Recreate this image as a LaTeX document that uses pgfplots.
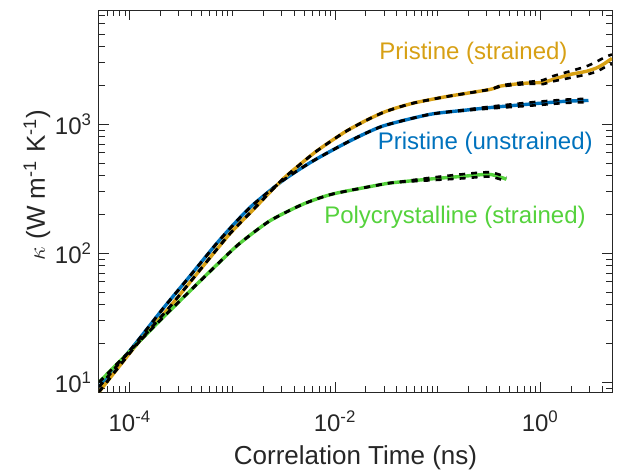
\documentclass[border=0pt]{standalone}
\usepackage{pgfplots}
\pgfplotsset{compat=1.18}
\usepackage{fontspec}
\setmainfont{Liberation Sans}
\definecolor{cblue}{RGB}{0,114,189}
\definecolor{cgold}{RGB}{215,160,20}
\definecolor{cgreen}{RGB}{85,210,60}
\definecolor{axgray}{RGB}{38,38,38}
\begin{document}
\begin{tikzpicture}
\useasboundingbox (-49.5bp,-40bp) rectangle (259.5bp,196bp);
\begin{axis}[
  at={(0,0)}, anchor=south west,
  width=256.5bp, height=191bp, scale only axis,
  xmode=log, ymode=log,
  xmin=5e-5, xmax=5, ymin=8.4, ymax=7700,
  xtick={1e-4,1e-2,1},
  xticklabels={10\textsuperscript{-4},10\textsuperscript{-2},10\textsuperscript{0}},
  minor xtick={6e-5,7e-5,8e-5,9e-5,2e-4,3e-4,4e-4,5e-4,6e-4,7e-4,8e-4,9e-4,1e-3,2e-3,3e-3,4e-3,5e-3,6e-3,7e-3,8e-3,9e-3,2e-2,3e-2,4e-2,5e-2,6e-2,7e-2,8e-2,9e-2,0.1,0.2,0.3,0.4,0.5,0.6,0.7,0.8,0.9,2,3,4},
  ytick={10,100,1000},
  yticklabels={10\textsuperscript{1},10\textsuperscript{2},10\textsuperscript{3}},
  minor ytick={9,20,30,40,50,60,70,80,90,200,300,400,500,600,700,800,900,2000,3000,4000,5000,6000,7000},
  tick align=inside, major tick length=5bp, minor tick length=2.8bp,
  axis line style={axgray, line width=0.5bp},
  tick style={axgray, line width=0.5bp},
  ticklabel style={font=\fontsize{12bp}{14bp}\selectfont, text=axgray},
  xticklabel style={yshift=-6bp},
  label style={font=\fontsize{13bp}{15bp}\selectfont, text=axgray},
  xlabel={Correlation Time (ns)},
  ylabel={$\kappa$ (W m\textsuperscript{-1} K\textsuperscript{-1})},
  xlabel style={at={(axis description cs:0.5,-0.172)}, anchor=center},
  ylabel style={at={(axis description cs:-0.121,0.542)}, anchor=center},
  every axis plot/.append style={smooth, tension=0.4},
]
% Pristine (unstrained)
\addplot[cblue, line width=1.7bp] coordinates {
(5e-5,9.2)(1.064e-4,18.7)(2.09e-4,37.0)(3.53e-4,61.2)(6.93e-4,117.8)(1.087e-3,175.8)(1.578e-3,237)(3.10e-3,367)(6.07e-3,519)(1.384e-2,741)(2.904e-2,968)(8.36e-2,1194)(0.1905,1290)(0.363,1360)(0.851,1442)(1.78,1510)(2.95,1531)};
% Pristine (strained)
\addplot[cgold, line width=1.7bp] coordinates {
(5e-5,8.4)(1.148e-4,19.3)(2.43e-4,38.1)(4.76e-4,73.3)(9.35e-4,140.6)(1.578e-3,216)(3.10e-3,376)(6.07e-3,589)(8.83e-3,728)(1.285e-2,885)(1.95e-2,1060)(2.9e-2,1230)(3.95e-2,1340)(6.0e-2,1470)(0.1216,1640)(0.321,1862)(0.403,1974)(0.6,2060)(0.85,2100)(1.06,2110)(1.32,2224)(1.94,2432)(2.82,2577)(3.53,2735)(4.2,2950)(5.0,3250)};
% Polycrystalline (strained)
\addplot[cgreen, line width=1.7bp] coordinates {
(5e-5,10.0)(1.148e-4,19.5)(2.09e-4,31.6)(4.43e-4,56.9)(7.46e-4,85.1)(1.17e-3,118.9)(2.30e-3,178)(4.85e-3,240)(9.46e-3,288)(2.9e-2,343)(3.95e-2,355)(8.93e-2,378)(0.174,395)(0.321,409)(0.468,375)};
% dashed bounds
\pgfplotsset{dsh/.style={black, line width=1.3bp, dash pattern=on 3bp off 3bp}}
\addplot[dsh] coordinates {
(5e-5,9.2)(1.064e-4,18.7)(2.09e-4,37.0)(3.53e-4,61.2)(6.93e-4,117.8)(1.087e-3,175.8)(1.578e-3,237)(3.10e-3,367)(6.07e-3,519)(1.384e-2,741)(2.904e-2,968)(8.36e-2,1194)(0.1905,1300)(0.363,1385)(0.851,1485)(1.78,1555)(2.95,1577)};
\addplot[dsh] coordinates {
(5e-5,9.2)(1.064e-4,18.7)(2.09e-4,37.0)(3.53e-4,61.2)(6.93e-4,117.8)(1.087e-3,175.8)(1.578e-3,237)(3.10e-3,367)(6.07e-3,519)(1.384e-2,741)(2.904e-2,968)(8.36e-2,1194)(0.1905,1280)(0.363,1335)(0.851,1400)(1.78,1466)(2.95,1486)};
\addplot[dsh] coordinates {
(5e-5,8.4)(1.148e-4,19.3)(2.43e-4,38.1)(4.76e-4,73.3)(9.35e-4,140.6)(1.578e-3,216)(3.10e-3,376)(6.07e-3,589)(8.83e-3,728)(1.285e-2,885)(1.95e-2,1060)(2.9e-2,1230)(3.95e-2,1340)(6.0e-2,1470)(0.1216,1640)(0.321,1862)(0.403,1990)(0.6,2090)(0.85,2150)(1.06,2200)(1.32,2360)(1.94,2577)(2.82,2818)(3.53,3060)(4.43,3367)(5.0,3475)};
\addplot[dsh] coordinates {
(5e-5,8.4)(1.148e-4,19.3)(2.43e-4,38.1)(4.76e-4,73.3)(9.35e-4,140.6)(1.578e-3,216)(3.10e-3,376)(6.07e-3,589)(8.83e-3,728)(1.285e-2,885)(1.95e-2,1060)(2.9e-2,1230)(3.95e-2,1340)(6.0e-2,1470)(0.1216,1640)(0.321,1862)(0.403,1960)(0.6,2030)(0.85,2060)(1.06,2050)(1.32,2150)(1.94,2290)(2.82,2432)(3.53,2560)(4.43,2818)(5.0,2939)};
\addplot[dsh] coordinates {
(5e-5,10.0)(1.148e-4,19.5)(2.09e-4,31.6)(4.43e-4,56.9)(7.46e-4,85.1)(1.17e-3,118.9)(2.30e-3,178)(4.85e-3,240)(9.46e-3,288)(2.9e-2,343)(3.95e-2,355)(8.93e-2,387)(0.174,410)(0.321,425)(0.468,390)};
\addplot[dsh] coordinates {
(5e-5,10.0)(1.148e-4,19.5)(2.09e-4,31.6)(4.43e-4,56.9)(7.46e-4,85.1)(1.17e-3,118.9)(2.30e-3,178)(4.85e-3,240)(9.46e-3,288)(2.9e-2,343)(3.95e-2,355)(8.93e-2,369)(0.174,381)(0.321,393)(0.468,361)};
\node[text=cgold, font=\fontsize{12bp}{14bp}\selectfont] at (rel axis cs:0.730,0.887) {Pristine (strained)};
\node[text=cblue, font=\fontsize{12bp}{14bp}\selectfont] at (rel axis cs:0.753,0.652) {Pristine (unstrained)};
\node[text=cgreen, font=\fontsize{12bp}{14bp}\selectfont] at (rel axis cs:0.694,0.458) {Polycrystalline (strained)};
\end{axis}
\end{tikzpicture}
\end{document}
